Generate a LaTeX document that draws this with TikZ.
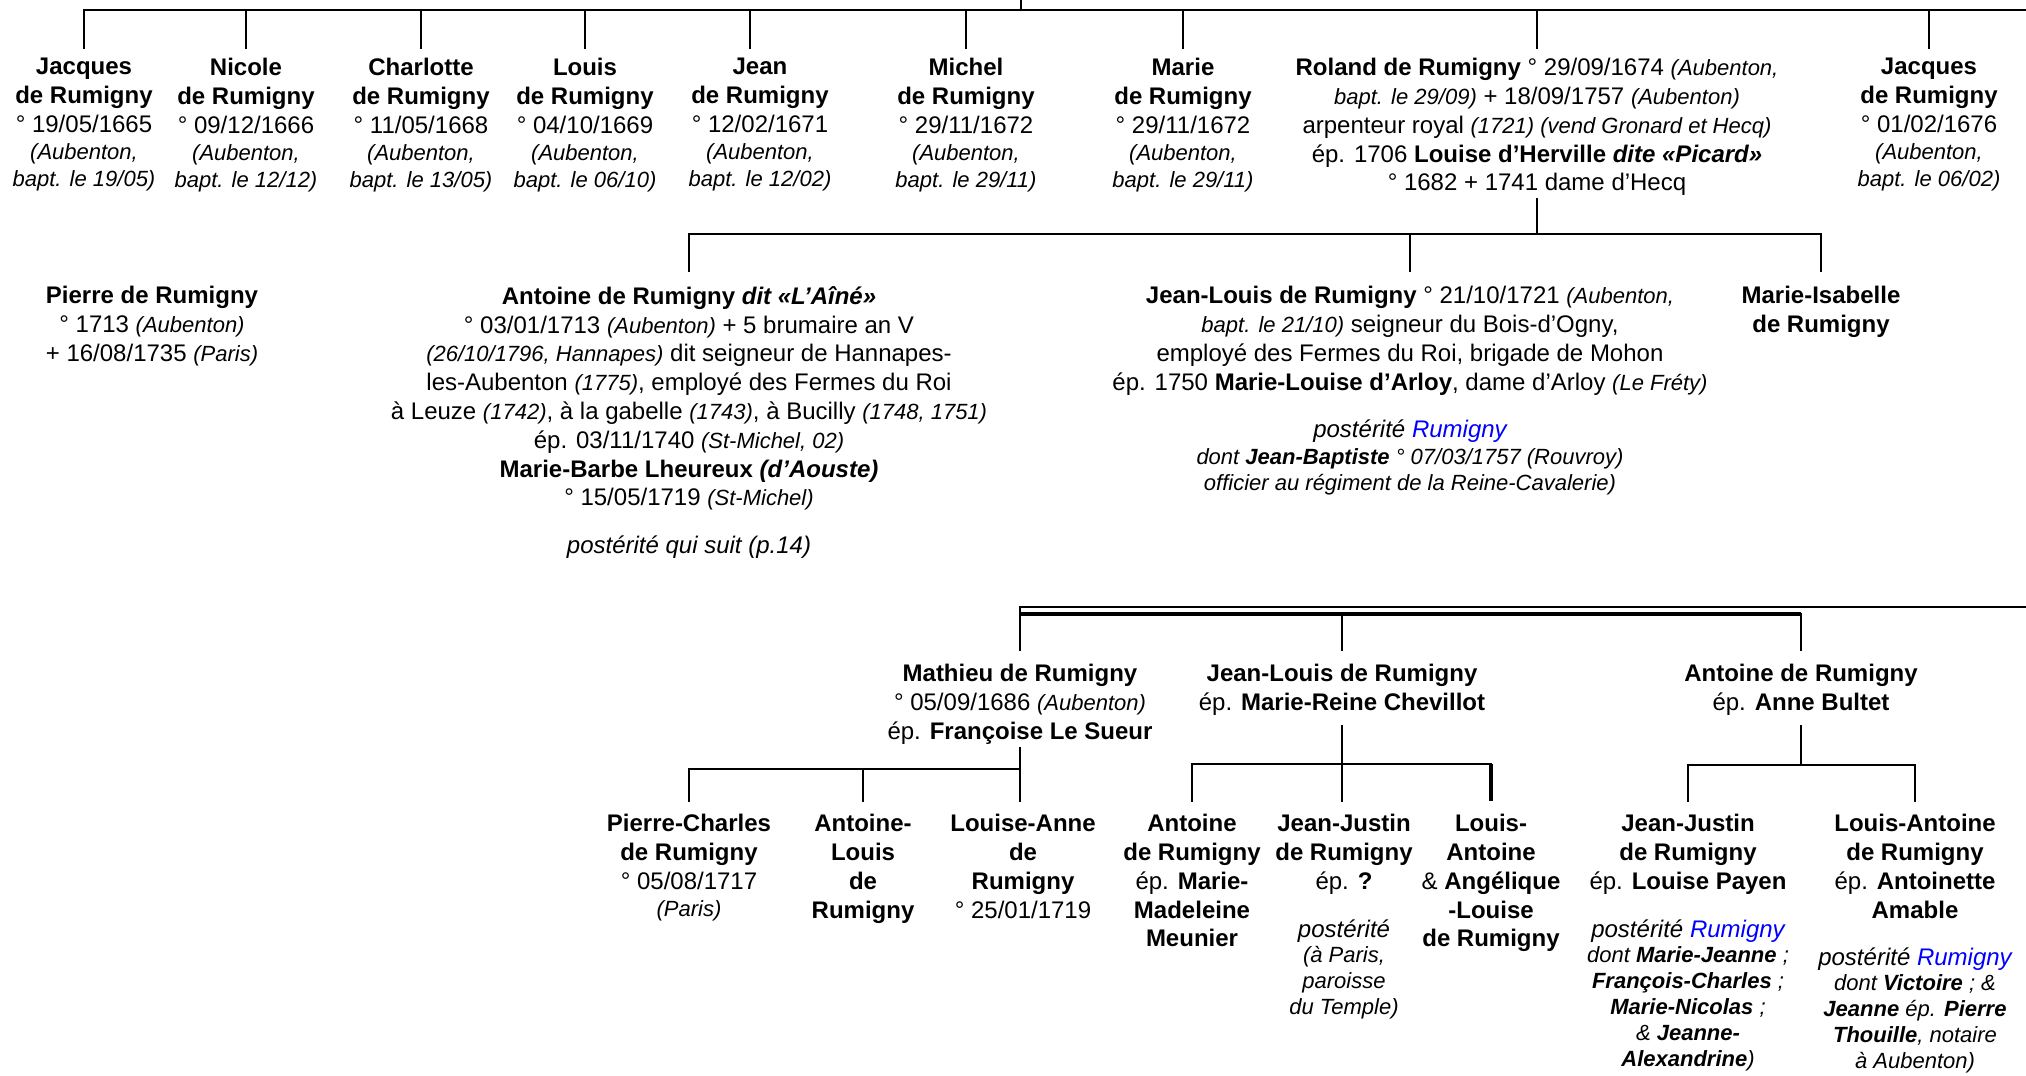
\documentclass[tikz,border=0pt]{standalone}
\usepackage{fontspec}
\setmainfont{Liberation Sans}
\definecolor{linkblue}{RGB}{0,0,255}
\newcommand\smit[1]{{\fontsize{11}{13}\selectfont\itshape #1}}
\newcommand\rumlink{{\color{linkblue}Rumigny}}
\tikzset{
  pers/.style={align=center, inner sep=0pt, anchor=north, font=\fontsize{12}{14.4}\selectfont},
  link/.style={line width=1pt, line cap=rect},
  thinbus/.style={line width=0.9pt},
  heavy/.style={line width=1.6pt}
}
\begin{document}
\begin{tikzpicture}[x=0.5pt,y=-0.5pt]
\fill[white] (0,0) rectangle (2026,1076);
\useasboundingbox (0,0) rectangle (2026,1076);

% ---------- level coordinates ----------
\coordinate (root) at (1021,0);
\coordinate (busA) at (1021,10);
\coordinate (busAR) at (2026,10);
\coordinate (endA) at (0,48);
\coordinate (c5top) at (750,48);
\coordinate (busB) at (0,234);
\coordinate (endB) at (0,271);
\coordinate (busC) at (0,607);
\coordinate (busCR) at (2026,607);
\coordinate (busD) at (0,614);
\coordinate (endC) at (0,650);
\coordinate (busE) at (0,769);
\coordinate (busF) at (0,764);
\coordinate (busG) at (0,765);
\coordinate (endE) at (0,801);

% ---------- first row ----------
\node[pers] (c1) at (84,58) {\textbf{Jacques}\\\textbf{de Rumigny}\\° 19/05/1665\\[-0.8pt]\smit{(Aubenton,}\\[-0.8pt]\smit{bapt. le 19/05)}};
\node[pers] (c2) at (246,58) {\textbf{Nicole}\\\textbf{de Rumigny}\\° 09/12/1666\\[-0.8pt]\smit{(Aubenton,}\\[-0.8pt]\smit{bapt. le 12/12)}};
\node[pers] (c3) at (421,58) {\textbf{Charlotte}\\\textbf{de Rumigny}\\° 11/05/1668\\[-0.8pt]\smit{(Aubenton,}\\[-0.8pt]\smit{bapt. le 13/05)}};
\node[pers] (c4) at (585,58) {\textbf{Louis}\\\textbf{de Rumigny}\\° 04/10/1669\\[-0.8pt]\smit{(Aubenton,}\\[-0.8pt]\smit{bapt. le 06/10)}};
\node[pers] (c5) at (760,58) {\textbf{Jean}\\\textbf{de Rumigny}\\° 12/02/1671\\[-0.8pt]\smit{(Aubenton,}\\[-0.8pt]\smit{bapt. le 12/02)}};
\node[pers] (c6) at (966,58) {\textbf{Michel}\\\textbf{de Rumigny}\\° 29/11/1672\\[-0.8pt]\smit{(Aubenton,}\\[-0.8pt]\smit{bapt. le 29/11)}};
\node[pers] (c7) at (1183,58) {\textbf{Marie}\\\textbf{de Rumigny}\\° 29/11/1672\\[-0.8pt]\smit{(Aubenton,}\\[-0.8pt]\smit{bapt. le 29/11)}};
\node[pers] (roland) at (1537,58) {\textbf{Roland de Rumigny} ° 29/09/1674 \smit{(Aubenton,}\\
  \smit{bapt. le 29/09)} + 18/09/1757 \smit{(Aubenton)}\\
  arpenteur royal \smit{(1721) (vend Gronard et Hecq)}\\
  ép. 1706 \textbf{Louise d’Herville \textit{dite «Picard»}}\\
  ° 1682 + 1741 dame d'Hecq};
\node[pers] (c9) at (1929,58) {\textbf{Jacques}\\\textbf{de Rumigny}\\° 01/02/1676\\[-0.8pt]\smit{(Aubenton,}\\[-0.8pt]\smit{bapt. le 06/02)}};

\draw[link] (root) -- (busA);
\draw[link] (c1.north |- busA) -- (busAR);
\foreach \n in {c1,c2,c3,c4,c6,c7,roland,c9}
  \draw[link] (\n.north |- busA) -- (\n.north |- endA);
\draw[link] (c5top |- busA) -- (c5top);

% ---------- second row ----------
\node[pers] (pierre) at (152,286) {\textbf{Pierre de Rumigny}\\° 1713 \smit{(Aubenton)}\\+ 16/08/1735 \smit{(Paris)}};
\node[pers] (antoine) at (689,286) {\textbf{Antoine de Rumigny \textit{dit «L’Aîné»}}\\
  ° 03/01/1713 \smit{(Aubenton)} + 5 brumaire an V\\
  \smit{(26/10/1796, Hannapes)} dit seigneur de Hannapes-\\
  les-Aubenton \smit{(1775)}, employé des Fermes du Roi\\
  à Leuze \smit{(1742)}, à la gabelle \smit{(1743)}, à Bucilly \smit{(1748, 1751)}\\
  ép. 03/11/1740 \smit{(St-Michel, 02)}\\
  \textbf{Marie-Barbe Lheureux \textit{(d’Aouste)}}\\
  ° 15/05/1719 \smit{(St-Michel)}\\[9.5pt]
  \textit{postérité qui suit (p.14)}};
\node[pers] (jeanlouis) at (1410,286) {\textbf{Jean-Louis de Rumigny} ° 21/10/1721 \smit{(Aubenton,}\\
  \smit{bapt. le 21/10)} seigneur du Bois-d’Ogny,\\
  employé des Fermes du Roi, brigade de Mohon\\
  ép. 1750 \textbf{Marie-Louise d’Arloy}, dame d’Arloy \smit{(Le Fréty)}\\[9.5pt]
  \textit{postérité \rumlink}\\[-1pt]
  \smit{dont \textbf{Jean-Baptiste} ° 07/03/1757 (Rouvroy)}\\[-1.5pt]
  \smit{officier au régiment de la Reine-Cavalerie)}};
\node[pers] (marieis) at (1821,286) {\textbf{Marie-Isabelle}\\\textbf{de Rumigny}};

\draw[link, shorten <=1.5pt] (roland.south) -- (roland.south |- busB);
\draw[link] (antoine.north |- busB) -- (marieis.north |- busB);
\foreach \n in {antoine,jeanlouis,marieis}
  \draw[link] (\n.north |- busB) -- (\n.north |- endB);

% ---------- third level ----------
\node[pers] (mathieu) at (1020,664) {\textbf{Mathieu de Rumigny}\\° 05/09/1686 \smit{(Aubenton)}\\ép. \textbf{Françoise Le Sueur}};
\node[pers] (jl2) at (1342,664) {\textbf{Jean-Louis de Rumigny}\\ép. \textbf{Marie-Reine Chevillot}};
\node[pers] (ant3) at (1801,664) {\textbf{Antoine de Rumigny}\\ép. \textbf{Anne Bultet}};

\draw[thinbus] (mathieu.north |- busC) -- (busCR);
\draw[heavy] (mathieu.north |- busD) -- (ant3.north |- busD);
\draw[link] (mathieu.north |- busC) -- (mathieu.north |- endC);
\draw[link] (jl2.north |- busD) -- (jl2.north |- endC);
\draw[link] (ant3.north |- busD) -- (ant3.north |- endC);

% ---------- fourth level ----------
\node[pers] (pc) at (689,814) {\textbf{Pierre-Charles}\\\textbf{de Rumigny}\\° 05/08/1717\\[-1pt]\smit{(Paris)}};
\node[pers] (al) at (863,814) {\textbf{Antoine-}\\\textbf{Louis}\\\textbf{de}\\\textbf{Rumigny}};
\node[pers] (la) at (1023,814) {\textbf{Louise-Anne}\\\textbf{de}\\\textbf{Rumigny}\\° 25/01/1719};
\node[pers] (am) at (1192,814) {\textbf{Antoine}\\\textbf{de Rumigny}\\ép. \textbf{Marie-}\\\textbf{Madeleine}\\\textbf{Meunier}};
\node[pers] (jj1) at (1344,814) {\textbf{Jean-Justin}\\\textbf{de Rumigny}\\ép. \textbf{?}\\[9.5pt]
  \textit{postérité}\\[-1.5pt]\smit{(à Paris,}\\[-1.5pt]\smit{paroisse}\\[-1.5pt]\smit{du Temple)}};
\node[pers] (la2) at (1491,814) {\textbf{Louis-}\\\textbf{Antoine}\\\& \textbf{Angélique}\\\textbf{-Louise}\\\textbf{de Rumigny}};
\node[pers] (jj2) at (1688,814) {\textbf{Jean-Justin}\\\textbf{de Rumigny}\\ép. \textbf{Louise Payen}\\[9.5pt]
  \textit{postérité \rumlink}\\[-1.5pt]
  \smit{dont \textbf{Marie-Jeanne} ;}\\[-1.5pt]
  \smit{\textbf{François-Charles} ;}\\[-1.5pt]
  \smit{\textbf{Marie-Nicolas} ;}\\[-1.5pt]
  \smit{\& \textbf{Jeanne-}}\\[-1.5pt]
  \smit{\textbf{Alexandrine})}};
\node[pers] (la3) at (1915,814) {\textbf{Louis-Antoine}\\\textbf{de Rumigny}\\ép. \textbf{Antoinette}\\\textbf{Amable}\\[9pt]
  \textit{postérité \rumlink}\\[-1.5pt]
  \smit{dont \textbf{Victoire} ; \&}\\[-1.5pt]
  \smit{\textbf{Jeanne} ép. \textbf{Pierre}}\\[-1.5pt]
  \smit{\textbf{Thouille}, notaire}\\[-1.5pt]
  \smit{à Aubenton)}};

% Mathieu's children
\draw[link, shorten <=1.5pt] (mathieu.south) -- (mathieu.south |- endE);
\draw[link] (pc.north |- busE) -- (mathieu.south |- busE);
\draw[link] (pc.north |- busE) -- (pc.north |- endE);
\draw[link] (al.north |- busE) -- (al.north |- endE);
% Jean-Louis's children
\draw[link, shorten <=5pt] (jl2.south) -- (jl2.south |- endE);
\draw[link] (am.north |- busF) -- (la2.north |- busF);
\draw[link] (am.north |- busF) -- (am.north |- endE);
\draw[heavy] (la2.north |- busF) -- (la2.north |- endE);
% Antoine's children
\draw[link, shorten <=5pt] (ant3.south) -- (ant3.south |- busG);
\draw[link] (jj2.north |- busG) -- (la3.north |- busG);
\draw[link] (jj2.north |- busG) -- (jj2.north |- endE);
\draw[link] (la3.north |- busG) -- (la3.north |- endE);
\end{tikzpicture}
\end{document}
